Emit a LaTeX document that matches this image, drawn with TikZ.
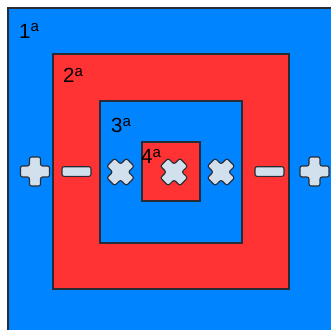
\documentclass[tikz,border=0pt]{standalone}
\usepackage{fontspec}
\setmainfont{Liberation Sans}
\definecolor{bgblue}{RGB}{0,132,255}
\definecolor{boxred}{RGB}{255,51,51}
\definecolor{symfill}{RGB}{210,224,238}
\definecolor{edge}{RGB}{40,44,52}
\tikzset{
  box/.style={draw=edge, line width=1.2pt, inner sep=0pt, outer sep=0pt},
  bluebox/.style={box, fill=bgblue},
  redbox/.style={box, fill=boxred},
  lbl/.style={anchor=base west, inner sep=0pt, font=\fontsize{20.5}{20.5}\selectfont},
  sym/.style={fill=symfill, draw=edge, line width=1.1pt, rounded corners=2pt},
}
\newcommand{\ordsup}{\raisebox{6pt}{\fontsize{15}{15}\selectfont a}}
\newcommand{\plusshape}[4]{% x, y, rotation, arm half-length
  \draw[sym, shift={(#1,#2)}, rotate=#3]
    (-#4,-5.5) -- (-5.5,-5.5) -- (-5.5,-#4) -- (5.5,-#4) -- (5.5,-5.5) -- (#4,-5.5)
    -- (#4,5.5) -- (5.5,5.5) -- (5.5,#4) -- (-5.5,#4) -- (-5.5,5.5) -- (-#4,5.5) -- cycle;}
\newcommand{\minusshape}[2]{%
  \draw[sym, shift={(#1,#2)}] (-14.5,-4.8) rectangle (14.5,4.8);}
\begin{document}
\begin{tikzpicture}[x=1pt, y=-1pt]
\useasboundingbox (0,0) rectangle (331,329);
\fill[white] (0,0) rectangle (331,329);
% boxes
\draw[bluebox] (8,8) rectangle (334,332);
\node[redbox, minimum width=236pt, minimum height=235pt] (b2) at (171,171.5) {};
\node[bluebox, minimum width=142pt, minimum height=142pt] (b3) at (171,172) {};
\node[redbox, minimum width=58pt, minimum height=59pt] (b4) at (171,171.5) {};
% labels
\node[lbl] (l1) at (19,38) {1\ordsup};
\node[lbl] (l2) at (63,82) {2\ordsup};
\node[lbl] (l3) at (111,132) {3\ordsup};
\node[lbl] (l4) at (141,163) {4\ordsup};
% symbols
\plusshape{35}{171.5}{0}{14.5}
\minusshape{76.5}{171.5}
\plusshape{120.5}{172}{45}{13.8}
\plusshape{174}{172}{45}{13.8}
\plusshape{221}{172}{45}{13.8}
\minusshape{269.5}{171.5}
\plusshape{314.5}{171.5}{0}{14.5}
\end{tikzpicture}
\end{document}
